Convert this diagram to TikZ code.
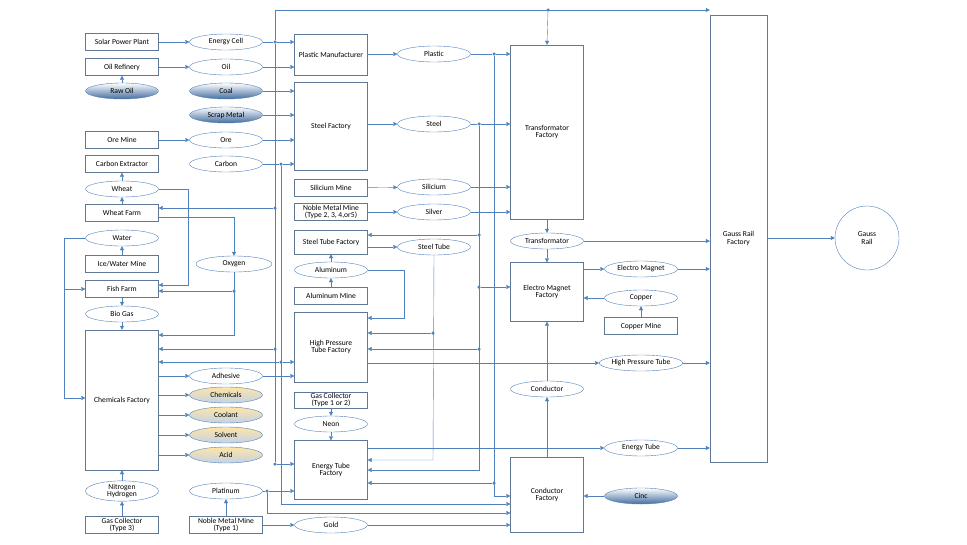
\documentclass[tikz,border=0pt]{standalone}
\usepackage{fontspec}
\setmainfont{Carlito}
\usetikzlibrary{arrows.meta, shapes.geometric}

\definecolor{flow}{RGB}{79,129,189}
\definecolor{edge}{RGB}{96,120,150}

\begin{document}
\begin{tikzpicture}[
  x=1pt, y=-1pt,
  font=\fontsize{7.6}{7.8}\selectfont,
  box/.style={
    % plain factory box
    rectangle, draw=edge, fill=white,
    minimum width=73pt, minimum height=17pt,
    inner sep=0pt, align=center
  },
  item/.style={
    % product ellipse
    ellipse, draw=flow, fill=white,
    minimum width=73pt, minimum height=16pt,
    inner sep=0pt, align=center
  },
  raw/.style={item, top color=white, bottom color=flow!85!black},
  mix/.style={item, top color=yellow!40!orange!35, bottom color=flow!35},
  arr/.style={draw=flow, -{Triangle[length=4pt,width=4pt]}},
  line/.style={draw=flow},
  dot/.style={circle, fill=flow, inner sep=0pt, minimum size=3.5pt}
  ]

  \useasboundingbox (0,0) rectangle (967,544);

  % left column
  \node (solar) [box] at (122,42) {Solar Power Plant};
  \node (refin) [box] at (122,67) {Oil Refinery};
  \node (rawoil) [raw] at (122,91) {Raw Oil};
  \node (oremine) [box] at (122,140) {Ore Mine};
  \node (carbext) [box] at (122,164) {Carbon Extractor};
  \node (wheat) [item] at (122,189) {Wheat};
  \node (wfarm) [box] at (122,213) {Wheat Farm};
  \node (water) [item] at (122,238) {Water};
  \node (icemine) [box] at (122,264) {Ice/Water Mine};
  \node (fish) [box] at (122,289) {Fish Farm};
  \node (biogas) [item] at (122,314) {Bio Gas};
  \node (chemf) [box, minimum height=140pt] at (122,400) {Chemicals Factory};
  \node (nh) [item, minimum height=17pt] at (122,491) {Nitrogen\\Hydrogen};
  \node (gc3) [box] at (122,525) {Gas Collector\\(Type 3)};

  % second column
  \node (ecell) [item] at (226,42) {Energy Cell};
  \node (oil) [item] at (226,67) {Oil};
  \node (coal) [raw] at (226,91) {Coal};
  \node (scrap) [raw] at (226,115) {Scrap Metal};
  \node (ore) [item] at (226,140) {Ore};
  \node (carbon) [item] at (226,164) {Carbon};
  \node (oxygen) [item, minimum width=76pt] at (234,264) {Oxygen};
  \node (adh) [item] at (226,376) {Adhesive};
  \node (chems) [mix] at (226,395) {Chemicals};
  \node (cool) [mix] at (226,415) {Coolant};
  \node (solv) [mix] at (226,435) {Solvent};
  \node (acid) [mix] at (226,455) {Acid};
  \node (plat) [item] at (226,491) {Platinum};
  \node (nm1) [box] at (226,525) {Noble Metal Mine\\(Type 1)};

  % third column
  \node (pman) [box, minimum height=41pt] at (331,55) {Plastic Manufacturer};
  \node (sfac) [box, minimum height=88pt] at (331,126) {Steel Factory};
  \node (simine) [box] at (331,188) {Silicium Mine};
  \node (nm2) [box] at (331,212) {Noble Metal Mine\\(Type 2, 3, 4,or5)};
  \node (stf) [box, minimum height=24pt] at (331,242) {Steel Tube Factory};
  \node (alu) [item] at (331,270) {Aluminum};
  \node (alumine) [box] at (331,296) {Aluminum Mine};
  \node (hptf) [box, minimum height=70pt] at (331,347) {High Pressure\\Tube Factory};
  \node (gc12) [box, minimum height=16pt] at (331,400) {Gas Collector\\(Type 1 or 2)};
  \node (neon) [item] at (331,424) {Neon};
  \node (etf) [box, minimum height=59pt] at (331,470) {Energy Tube\\Factory};
  \node (gold) [item] at (331,525) {Gold};

  % fourth column
  \node (plastic) [item] at (434,54) {Plastic};
  \node (steel) [item] at (434,124) {Steel};
  \node (silic) [item] at (434,187) {Silicium};
  \node (silver) [item] at (434,212) {Silver};
  \node (stube) [item] at (434,247) {Steel Tube};

  % right part
  \node (tfac) [box, minimum height=174pt] at (547,132) {Transformator\\Factory};
  \node (trans) [item] at (547,241) {Transformator};
  \node (emf) [box, minimum height=59pt] at (547,292) {Electro Magnet\\Factory};
  \node (cond) [item] at (547,389) {Conductor};
  \node (cfac) [box, minimum height=75pt] at (547,495) {Conductor\\Factory};
  \node (emag) [item] at (641,269) {Electro Magnet};
  \node (copper) [item] at (641,298) {Copper};
  \node (cmine) [box] at (641,326) {Copper Mine};
  \node (hpt) [item] at (641,363) {High Pressure Tube};
  \node (etube) [item] at (641,448) {Energy Tube};
  \node (cinc) [raw] at (641,496) {Cinc};
  \node (grf) [box, minimum width=57pt, minimum height=447pt] at (738.5,238.5) {Gauss Rail\\Factory};
  \node (grail) [circle, draw=flow, minimum size=64pt, align=center] at (867,238) {Gauss\\Rail};

  % raw material chains
  \draw [arr] (solar) -- (ecell);
  \draw [arr] (refin) -- (oil);
  \draw [arr] (rawoil) -- (refin);
  \draw [arr] (oremine) -- (ore);
  \draw [arr] (wheat) -- (carbext);
  \draw [arr] (wfarm) -- (wheat);
  \draw [arr] (icemine) -- (water);
  \draw [arr] (fish) -- (biogas);
  \draw [arr] (biogas) -- (chemf);
  \draw [arr] (gc3) -- (nh);
  \draw [arr] (nh) -- (chemf);
  \draw [arr] (nm1) -- (plat);
  \draw [arr] (nm1) -- (gold);
  \draw [arr] (gold) -- (cfac.west |- gold);

  % energy cell bus
  \node (j1) [dot] at (275,42) {};
  \coordinate (top) at (275,10);
  \node (j2) [dot] at (548,10) {};
  \node (j3) [dot] at (275,208) {};
  \node (j4) [dot] at (275,349) {};
  \node (j5) [dot] at (275,464) {};
  \draw [line] (ecell) -- (j1);
  \draw [arr] (j1) -- (pman.west |- j1);
  \draw [arr] (j1) -- (top) -- (grf.west |- top);
  \draw [arr] (j2) -- (tfac.north);
  \draw [line] (j1) -- (j5);
  \draw [arr] (j3) -- (wfarm.east |- j3);
  \draw [arr] (j4) -- (chemf.east |- j4);
  \draw [arr] (j5) -- (etf.west |- j5);

  % steel factory inputs
  \draw [arr] (oil) -- (pman.west |- oil);
  \draw [arr] (coal) -- (sfac.west |- coal);
  \draw [arr] (scrap) -- (sfac.west |- scrap);
  \draw [arr] (ore) -- (sfac.west |- ore);
  \node (c1) [dot] at (281,164) {};
  \node (c2) [dot] at (281,362) {};
  \coordinate (c3) at (281,504);
  \draw [line] (carbon) -- (c1);
  \draw [arr] (c1) -- (sfac.west |- c1);
  \draw [arr] (c1) -- (c3) -- (cfac.west |- c3);
  \draw [arr] (c2) -- (chemf.east |- c2);
  \draw [arr] (c2) -- (hptf.west |- c2);

  % farms
  \draw [arr] (wheat.east) -- (188,189) -- (188,285) -- (fish.east |- 0,285);
  \draw [arr] (wfarm.east |- 0,217) -- (234,217) -- (oxygen.north);
  \node (o1) [dot] at (234,291) {};
  \draw [arr] (oxygen.south) -- (234,335) -- (chemf.east |- 0,335);
  \draw [arr] (o1) -- (fish.east |- o1);
  \draw [arr] (water.west) -- (64,238) -- (64,398) -- (chemf.west |- 0,398);
  \draw [arr] (64,289) -- (fish.west |- 0,289);

  % chemicals
  \foreach \p in {adh, chems, cool, solv, acid}
    \draw [arr] (chemf.east |- \p) -- (\p);
  \draw [arr] (adh) -- (hptf.west |- adh);
  \draw [arr] (gc12) -- (neon);
  \draw [arr] (neon) -- (etf);
  \node (p1) [dot] at (267,491) {};
  \draw [line] (plat) -- (p1);
  \draw [arr] (p1) -- (etf.west |- p1);
  \draw [arr] (p1) -- (267,513) -- (cfac.west |- 0,513);

  % aluminum
  \draw [arr] (alumine) -- (alu);
  \draw [arr] (alu) -- (stf);
  \draw [arr] (alu.east) -- (404,270) -- (404,318) -- (hptf.east |- 0,318);

  % plastic bus
  \node (q1) [dot] at (494,54) {};
  \node (q2) [dot] at (494,483) {};
  \draw [arr] (pman.east |- plastic) -- (plastic);
  \draw [line] (plastic) -- (q1);
  \draw [arr] (q1) -- (tfac.west |- q1);
  \draw [arr] (q1) -- (494,496) -- (cfac.west |- 0,496);
  \draw [arr] (q2) -- (etf.east |- q2);

  % steel bus
  \node (s1) [dot] at (479,124) {};
  \node (s2) [dot] at (479,235) {};
  \node (s3) [dot] at (479,287) {};
  \node (s4) [dot] at (479,349) {};
  \draw [arr] (sfac.east |- steel) -- (steel);
  \draw [line] (steel) -- (s1);
  \draw [arr] (s1) -- (tfac.west |- s1);
  \draw [arr] (s1) -- (479,470) -- (etf.east |- 0,470);
  \draw [arr] (s2) -- (stf.east |- s2);
  \draw [arr] (s3) -- (emf.west |- s3);
  \draw [arr] (s4) -- (hptf.east |- s4);

  % silicium, silver, steel tube
  \draw [arr] (simine) -- (silic);
  \draw [arr] (silic) -- (tfac.west |- silic);
  \draw [arr] (nm2) -- (silver);
  \draw [arr] (silver) -- (tfac.west |- silver);
  \draw [arr] (stf.east |- stube) -- (stube);
  \node (t1) [dot] at (433,333) {};
  \draw [arr] (stube.south) -- (433,460) -- (etf.east |- 0,460);
  \draw [arr] (t1) -- (hptf.east |- t1);

  % tubes to gauss rail
  \draw [arr] (hptf.east |- hpt) -- (hpt);
  \draw [arr] (hpt) -- (grf.west |- hpt);
  \draw [arr] (etf.east |- etube) -- (etube);
  \draw [arr] (etube) -- (grf.west |- etube);

  % magnets and conductors
  \draw [arr] (tfac) -- (trans);
  \draw [arr] (trans) -- (emf);
  \draw [arr] (trans) -- (grf.west |- trans);
  \draw [arr] (emf.east |- emag) -- (emag);
  \draw [arr] (emag) -- (grf.west |- emag);
  \draw [arr] (cmine) -- (copper);
  \draw [arr] (copper) -- (emf.east |- copper);
  \draw [arr] (cfac) -- (cond);
  \draw [arr] (cond) -- (emf);
  \draw [arr] (cinc) -- (cfac.east |- cinc);
  \draw [arr] (grf.east |- grail) -- (grail);

\end{tikzpicture}
\end{document}
